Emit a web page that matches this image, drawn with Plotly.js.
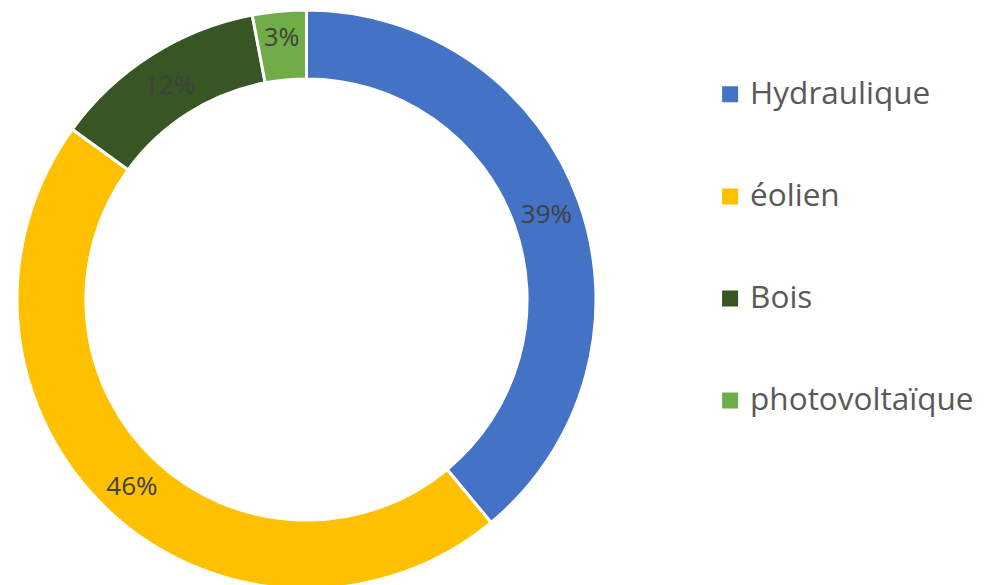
<!DOCTYPE html>
<html><head><meta charset="utf-8">
<script src="https://cdn.plot.ly/plotly-3.0.1.min.js"></script>
<style>html,body{margin:0;padding:0;overflow:hidden;background:#fff;width:989px;height:585px}</style>
</head><body><div id="chart" style="width:989px;height:600px"></div>
<script>
const categories = ['Hydraulique', 'éolien', 'Bois', 'photovoltaïque'];
const shares = [39, 46, 12, 3];
const colors = ['#4472C4', '#FFC000', '#375623', '#70AD47'];

const legendLabels = categories.map(c => '&nbsp;<br><span style="font-size:31.5px">' + c + '</span><br>&nbsp;');

const trace = {
  type: 'pie',
  labels: legendLabels,
  values: shares,
  hole: 0.762,
  sort: false,
  direction: 'clockwise',
  rotation: 0,
  marker: {colors: colors, line: {color: '#ffffff', width: 3}},
  texttemplate: '%{value}%',
  textposition: 'inside',
  insidetextorientation: 'horizontal',
  textfont: {family: 'Open Sans, sans-serif', size: 26, color: '#404040'},
  domain: {x: [17/989, 596/989], y: [11/600, 590/600]},
  hoverinfo: 'none'
};

const layout = {
  width: 989, height: 600,
  margin: {l: 0, r: 0, t: 0, b: 0},
  paper_bgcolor: '#ffffff',
  showlegend: true,
  legend: {
    x: 0.718, y: 0.587, xanchor: 'left', yanchor: 'middle',
    font: {family: 'Open Sans, sans-serif', size: 25.4, color: '#595959'},
    itemwidth: 30
  }
};

Plotly.newPlot('chart', [trace], layout, {displayModeBar: false, staticPlot: true}).then(() => {
  document.querySelectorAll('#chart .legendpoints path').forEach(p => {
    p.style.strokeWidth = '0px';
    p.setAttribute('d', 'M8,8H-8V-8H8Z');
  });
});
</script></body></html>
